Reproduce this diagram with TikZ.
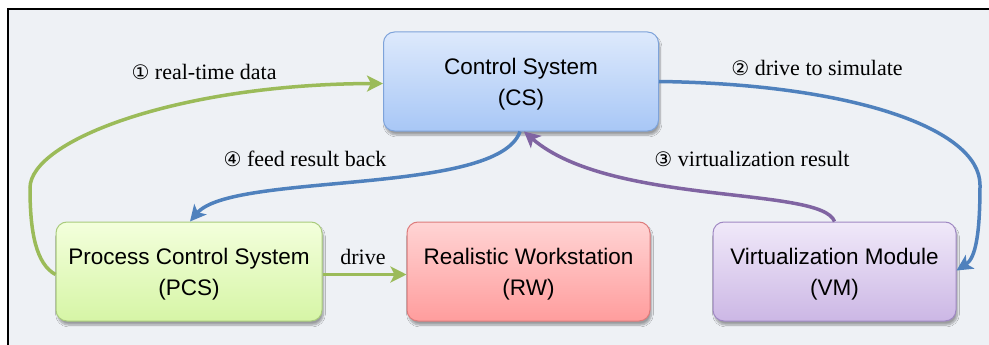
\documentclass[tikz,border=0pt]{standalone}
\usepackage{fontspec}
\setmainfont{Liberation Serif}
\setsansfont{Liberation Sans}
\newfontfamily\circfont{DejaVu Sans}
\usetikzlibrary{arrows.meta,shadows.blur}

\definecolor{bgpanel}{HTML}{EEF1F5}
\definecolor{csTop}{HTML}{DDE9FC}
\definecolor{csBot}{HTML}{A8C7F6}
\definecolor{csLine}{HTML}{7EA3DA}
\definecolor{pcsTop}{HTML}{F3FFDC}
\definecolor{pcsBot}{HTML}{D6F5A6}
\definecolor{pcsLine}{HTML}{A9CB7C}
\definecolor{rwTop}{HTML}{FFD4D4}
\definecolor{rwBot}{HTML}{FF9D9D}
\definecolor{rwLine}{HTML}{DD7B7B}
\definecolor{vmTop}{HTML}{F0E9F9}
\definecolor{vmBot}{HTML}{CCB7E5}
\definecolor{vmLine}{HTML}{9F88C3}
\definecolor{arrGreen}{HTML}{9BBB59}
\definecolor{arrBlue}{HTML}{4F81BD}
\definecolor{arrPurple}{HTML}{8064A2}

\newcommand\cnum[1]{{\circfont\fontsize{20}{20}\selectfont #1}}

\tikzset{
  box/.style={rounded corners=11pt, line width=1pt, minimum height=99pt,
    align=center, text=black, text height=53pt,
    font=\sffamily\fontsize{22.5}{31}\selectfont,
    blur shadow={shadow xshift=1.5pt, shadow yshift=-4pt, shadow opacity=35, shadow blur steps=8}},
  flow/.style={line width=3.5pt, -{Stealth[length=16pt,width=16pt,inset=4pt]}},
  lbl/.style={font=\fontsize{22}{26}\selectfont, text=black, inner sep=0pt}
}

\begin{document}
\begin{tikzpicture}[x=1pt,y=-1pt]
  % canvas and panel frame
  \useasboundingbox (0,0) rectangle (989,345);
  \fill[white] (0,0) rectangle (989,345);
  \fill[bgpanel] (8,9) rectangle (989,345);
  \draw[black, line width=1.3pt] (8,345) -- (8,9) -- (989,9);

  % components
  \node[box, minimum width=275pt, draw=csLine, top color=csTop, bottom color=csBot]
    (cs) at (521,81.5) {Control System\\(CS)};
  \node[box, minimum width=266pt, draw=pcsLine, top color=pcsTop, bottom color=pcsBot]
    (pcs) at (189,271.5) {Process Control System\\(PCS)};
  \node[box, minimum width=243pt, draw=rwLine, top color=rwTop, bottom color=rwBot]
    (rw) at (528.5,271.5) {Realistic Workstation\\(RW)};
  \node[box, minimum width=243pt, draw=vmLine, top color=vmTop, bottom color=vmBot]
    (vm) at (834.5,271.5) {Virtualization Module\\(VM)};

  % (1) real-time data: PCS -> CS, around the left side
  \draw[flow, arrGreen] ([yshift=-3pt]pcs.west) .. controls (36,264) and (30,232) .. (30,188)
     .. controls (30,140) and (180,84) .. ([yshift=-2pt]cs.west);
  % (2) drive to simulate: CS -> VM, around the right side
  \draw[flow, arrBlue] (cs.east) .. controls (850,84) and (980,128) .. (980,185)
     .. controls (980,232) and (976,258) .. ([yshift=1pt]vm.east);
  % (3) virtualization result: VM -> CS
  \draw[flow, arrPurple] (vm.north) .. controls (822,186) and (610,206) .. ([xshift=3pt]cs.south);
  % (4) feed result back: CS -> PCS
  \draw[flow, arrBlue] ([xshift=-1pt]cs.south) .. controls (498,196) and (232,172) .. ([xshift=1pt]pcs.north);
  % drive: PCS -> RW
  \draw[flow, arrGreen] ([yshift=-3pt]pcs.east) -- ([yshift=-3pt]rw.west);

  % connector labels
  \node[lbl] (l1) at (204,72) {\cnum{①} real-time data};
  \node[lbl] (l2) at (817,68) {\cnum{②} drive to simulate};
  \node[lbl] (l3) at (752,159) {\cnum{③} virtualization result};
  \node[lbl] (l4) at (305,159) {\cnum{④} feed result back};
  \node[lbl] (l5) at (363,257) {drive};
\end{tikzpicture}
\end{document}
